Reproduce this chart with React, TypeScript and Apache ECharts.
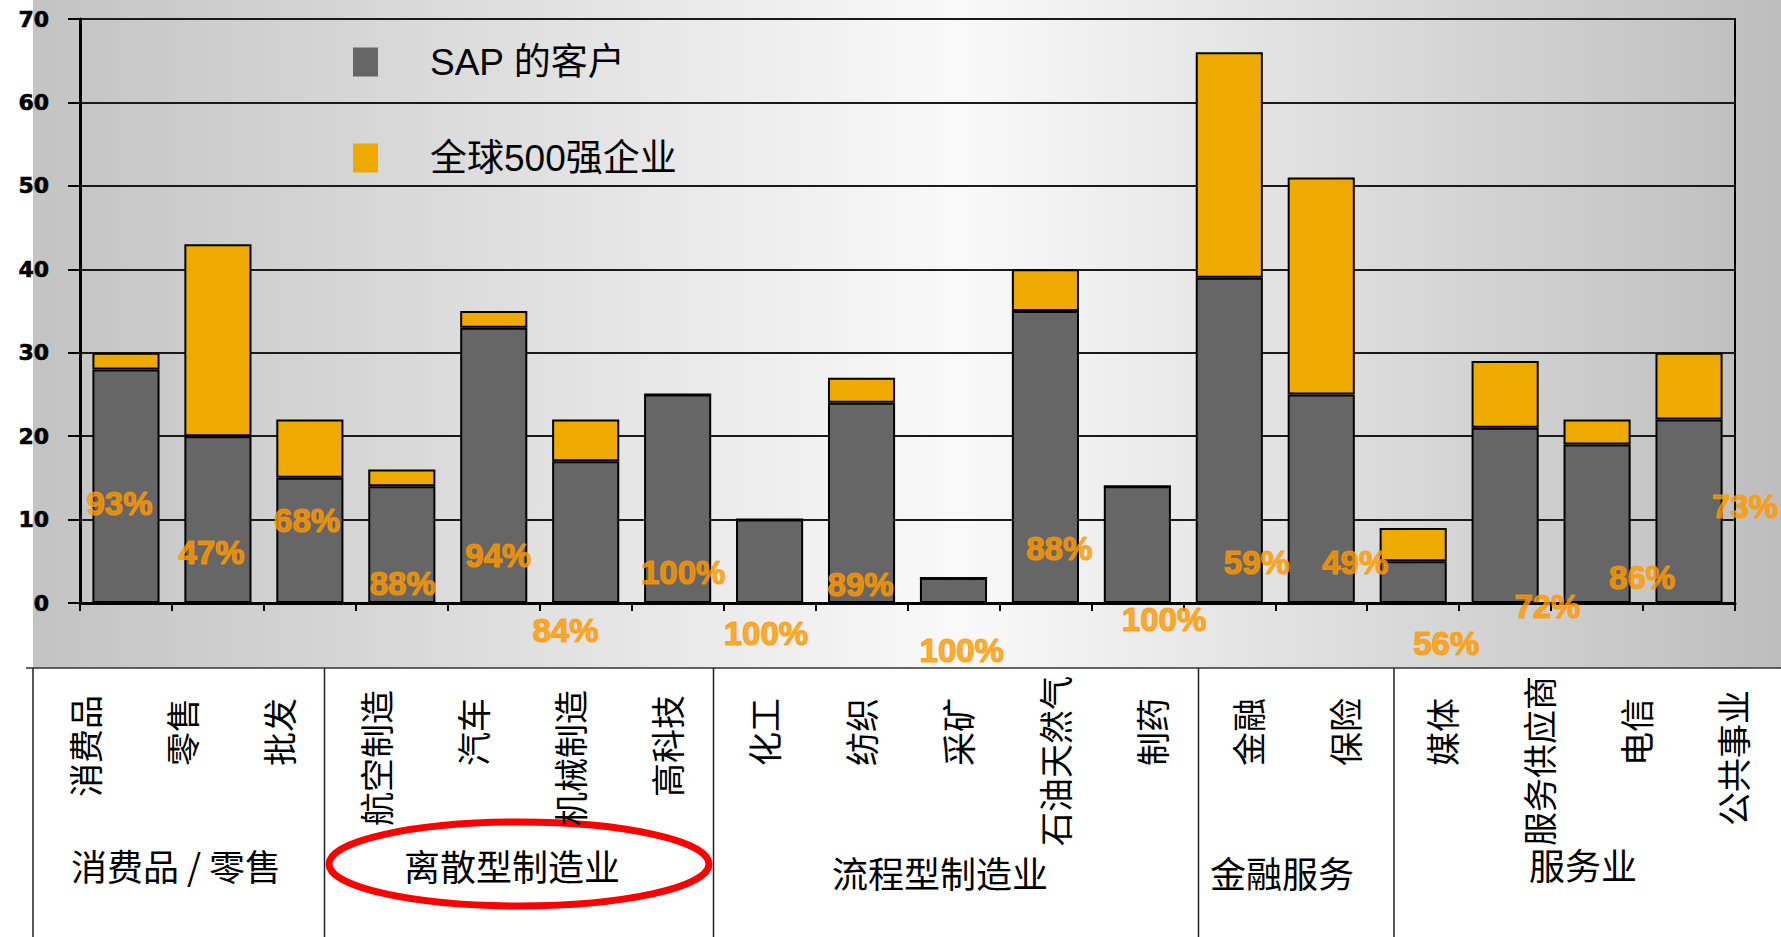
import React, { useEffect, useRef } from "react";
import * as echarts from "echarts";

const categories = ["消费品", "零售", "批发", "航空制造", "汽车", "机械制造", "高科技", "化工", "纺织", "采矿", "石油天然气", "制药", "金融", "保险", "媒体", "服务供应商", "电信", "公共事业"];
const sapCustomers = [28, 20, 15, 14, 33, 17, 25, 10, 24, 3, 35, 14, 39, 25, 5, 21, 19, 22];
const fortune500 = [2, 23, 7, 2, 2, 5, 0, 0, 3, 0, 5, 0, 27, 26, 4, 8, 3, 8];
const pctLabels = ["93%", "47%", "68%", "88%", "94%", "84%", "100%", "100%", "89%", "100%", "88%", "100%", "59%", "49%", "56%", "72%", "86%", "73%"];
// anchor of each percentage annotation: position along the category axis, and value level
const pctAnchorX = [-0.07, 0.93, 1.97, 3.01, 4.05, 4.78, 6.06, 6.96, 7.99, 9.09, 10.15, 11.29, 12.3, 13.37, 14.36, 15.46, 16.49, 17.61];
const pctAnchorY = [11.9, 6.0, 9.9, 2.3, 5.7, -3.3, 3.6, -3.7, 2.2, -5.7, 6.5, -2.0, 4.8, 4.8, -4.9, -0.4, 3.1, 11.6];
const groupNames = ["消费品 / 零售", "离散型制造业", "流程型制造业", "金融服务", "服务业"];
const seriesNames = ["SAP 的客户", "全球500强企业"];

const groupCenters = [[176, 865], [512, 865], [940, 872], [1282, 872], [1583, 864]];
const tableVLines = [33, 324.5, 713.5, 1198.5, 1394];
// offset of the vertical category names from the top, by name length
const namePadByLength: Record<number, number> = { 2: 22, 3: 19, 4: 14, 5: 0 };

export default function App() {
  const ref = useRef<HTMLDivElement>(null);
  useEffect(() => {
    if (!ref.current) return;
    const chart = echarts.init(ref.current, null, { renderer: "svg" });
    const cjk = "'Noto Sans CJK SC', sans-serif";
    const graphic: any[] = [
      {
        type: "rect",
        z: -10,
        shape: { x: 33, y: 0, width: 1748, height: 668 },
        style: {
          fill: new echarts.graphic.LinearGradient(0, 0, 1, 0, [
            { offset: 0, color: "#c3c3c3" },
            { offset: 0.53, color: "#f9f9f9" },
            { offset: 1, color: "#bdbdbd" },
          ]),
        },
      },
      {
        type: "line",
        shape: { x1: 26, y1: 668, x2: 1781, y2: 668 },
        style: { stroke: "#333", lineWidth: 1.5 },
      },
      ...tableVLines.map((x) => ({
        type: "line",
        shape: { x1: x, y1: 668, x2: x, y2: 937 },
        style: { stroke: "#222", lineWidth: 1.5 },
      })),
      ...groupNames.map((g, i) => ({
        type: "text",
        x: groupCenters[i][0],
        y: groupCenters[i][1],
        style: {
          text: g,
          fontSize: 36,
          fontFamily: cjk,
          fill: "#000",
          align: "center",
          verticalAlign: "middle",
        },
      })),
      {
        type: "ellipse",
        shape: { cx: 519, cy: 864, rx: 190, ry: 42 },
        style: { fill: "none", stroke: "#ff0000", lineWidth: 7 },
      },
    ];

    chart.setOption({
      animation: false,
      graphic,
      legend: {
        orient: "vertical",
        left: 353,
        top: 42,
        padding: 0,
        itemWidth: 25,
        itemHeight: 29,
        itemGap: 56,
        icon: "rect",
        data: seriesNames,
        itemStyle: { borderWidth: 0 },
        textStyle: {
          fontSize: 37,
          lineHeight: 40,
          color: "#000",
          fontFamily: "'Liberation Sans', 'Noto Sans CJK SC', sans-serif",
          padding: [0, 0, 0, 47],
        },
      },
      grid: [
        { left: 80, top: 19, width: 1655, height: 584, show: true, borderColor: "#000", borderWidth: 2, backgroundColor: "transparent" },
        { left: 36.5, top: 672, width: 1746, height: 1, show: false },
      ],
      xAxis: [
        {
          type: "category",
          gridIndex: 0,
          data: categories,
          boundaryGap: true,
          axisLine: { onZero: false, lineStyle: { color: "#000", width: 3 } },
          axisTick: { show: true, length: 8, lineStyle: { color: "#000", width: 2 } },
          axisLabel: { show: false },
        },
        {
          type: "value",
          gridIndex: 0,
          min: -0.5,
          max: 17.5,
          show: false,
        },
        {
          type: "category",
          gridIndex: 1,
          data: categories.map((c) => ({
            value: c,
            textStyle: { padding: [0, namePadByLength[c.length] ?? 0, 0, 0] },
          })),
          position: "bottom",
          axisLine: { show: false },
          axisTick: { show: false },
          axisLabel: {
            interval: 0,
            rotate: 90,
            margin: 3,
            fontSize: 34,
            fontFamily: cjk,
            color: "#000",
          },
        },
      ],
      yAxis: [
        {
          type: "value",
          gridIndex: 0,
          min: 0,
          max: 70,
          interval: 10,
          axisLine: { show: true, onZero: false, lineStyle: { color: "#000", width: 3 } },
          axisTick: { show: true, length: 12, lineStyle: { color: "#000", width: 2 } },
          axisLabel: {
            margin: 31,
            fontSize: 22,
            fontWeight: "bold",
            fontFamily: "'DejaVu Sans', sans-serif",
            color: "#000",
            textBorderColor: "#000",
            textBorderWidth: 0.6,
          },
          splitLine: { show: true, lineStyle: { color: "#1a1a1a", width: 2 } },
        },
        { type: "value", gridIndex: 1, show: false },
      ],
      series: [
        {
          name: seriesNames[0],
          type: "bar",
          stack: "total",
          xAxisIndex: 0,
          yAxisIndex: 0,
          barWidth: "73%",
          data: sapCustomers,
          itemStyle: { color: "#666666", borderColor: "#000", borderWidth: 2 },
        },
        {
          name: seriesNames[1],
          type: "bar",
          stack: "total",
          xAxisIndex: 0,
          yAxisIndex: 0,
          barWidth: "73%",
          data: fortune500,
          itemStyle: { color: "#EEAA00", borderColor: "#000", borderWidth: 2 },
        },
        {
          name: "pct",
          type: "scatter",
          xAxisIndex: 1,
          yAxisIndex: 0,
          clip: false,
          symbolSize: 1,
          z: 5,
          itemStyle: { color: "transparent" },
          data: pctAnchorX.map((x, i) => ({ value: [x, pctAnchorY[i]], name: pctLabels[i] })),
          label: {
            show: true,
            position: "inside",
            formatter: (p: any) => p.name,
            fontSize: 33,
            fontWeight: "bold",
            fontFamily: "'Liberation Sans', Arial, sans-serif",
            color: "#FF9900",
            textBorderColor: "#FF9900",
            textBorderWidth: 1.2,
          },
          emphasis: { disabled: true },
          tooltip: { show: false },
        },
      ],
    });
    return () => chart.dispose();
  }, []);
  return (
    <div
      ref={ref}
      style={{ position: "fixed", left: 0, top: 0, width: 1781, height: 937, background: "#fff" }}
    />
  );
}
